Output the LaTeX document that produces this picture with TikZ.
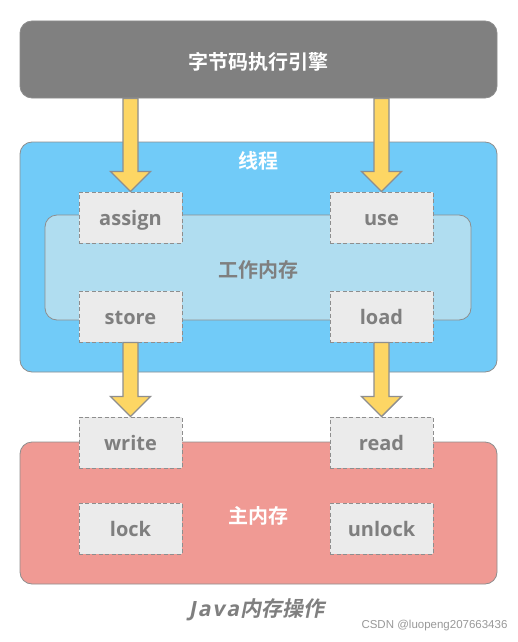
\documentclass[tikz,border=0pt]{standalone}
\usepackage{fontspec}
\usetikzlibrary{calc}
\newfontfamily\cjk{Noto Sans CJK SC}[UprightFont={* Bold}]
\newfontfamily\cjkit{Noto Sans CJK SC}[UprightFont={* Bold},FakeSlant=0.2]
\newfontfamily\latb{Open Sans}[UprightFont={* Bold}]
\newfontfamily\latit{Open Sans}[UprightFont={* Bold},FakeSlant=0.2]
\newfontfamily\wmfont{Liberation Sans}
\definecolor{engfill}{HTML}{808080}
\definecolor{bluefill}{HTML}{71CBF8}
\definecolor{lbluefill}{HTML}{B0DDF0}
\definecolor{redfill}{HTML}{F09A94}
\definecolor{opfill}{HTML}{EBEBEB}
\definecolor{txtgray}{HTML}{7F7F7F}
\definecolor{edgegray}{HTML}{8E8E8E}
\definecolor{arrowfill}{HTML}{FDD664}
\tikzset{
  bigbox/.style={draw=edgegray, line width=0.8pt, rounded corners=12pt, inner sep=0pt},
  opbox/.style={draw=edgegray, fill=opfill, dashed, dash pattern=on 4pt off 2.5pt, line width=1pt,
    minimum width=103pt, minimum height=51pt, inner sep=0pt, text height=15.6pt, text depth=0pt,
    font=\latb\fontsize{20}{20}\selectfont, text=txtgray},
  wlabel/.style={font=\cjk\fontsize{20}{22}\selectfont, text=white},
  glabel/.style={font=\cjk\fontsize{20}{22}\selectfont, text=txtgray},
  yarrow/.style={fill=arrowfill, draw=edgegray, line width=1.4pt, line join=miter}
}
\newcommand\fatarrow[2]{%
  \draw[yarrow] let \p1=(#1), \p2=(#2) in
    (\x2-7.5pt,\y1) -- (\x2-7.5pt,\y2+20pt) -- (\x2-20pt,\y2+20pt) -- (\x2,\y2)
    -- (\x2+20pt,\y2+20pt) -- (\x2+7.5pt,\y2+20pt) -- (\x2+7.5pt,\y1) -- cycle;}
\begin{document}
\begin{tikzpicture}[x=1pt,y=-1pt]
\useasboundingbox[fill=white] (0,0) rectangle (518,642);
% big boxes
\node[bigbox, fill=engfill, minimum width=477pt, minimum height=77pt] (engine) at (258.5,59.5) {};
\node[wlabel] (enginelbl) at (258.5,62) {字节码执行引擎};
\node[bigbox, fill=bluefill, minimum width=477pt, minimum height=230pt] (thread) at (258.5,257) {};
\node[wlabel] (threadlbl) at (258,161) {线程};
\node[bigbox, fill=lbluefill, minimum width=426pt, minimum height=105pt] (work) at (258,267.5) {};
\node[glabel] (worklbl) at (258,270) {工作内存};
\node[bigbox, fill=redfill, minimum width=477pt, minimum height=142pt] (main) at (258.5,513) {};
\node[wlabel] (mainlbl) at (258,516) {主内存};
% operation boxes
\node[opbox] (assign) at (130.5,217.5) {assign};
\node[opbox] (use) at (381.5,217.5) {use};
\node[opbox] (store) at (130.5,316.5) {store};
\node[opbox] (load) at (381.5,316.5) {load};
\node[opbox] (write) at (130.5,442.5) {write};
\node[opbox] (read) at (381.5,442.5) {read};
\node[opbox] (lock) at (130.5,528.5) {lock};
\node[opbox] (unlock) at (381.5,528.5) {unlock};
% arrows
\fatarrow{engine.south -| assign.north}{assign.north}
\fatarrow{engine.south -| use.north}{use.north}
\fatarrow{store.south}{write.north}
\fatarrow{load.south}{read.north}
% caption
\node[text=txtgray, anchor=base, inner sep=0pt] (caption) at (256.5,616.7)
  {{\latit\fontsize{21}{24}\selectfont J\kern2pt a\kern2pt v\kern2pt a}\kern1pt{\cjkit\fontsize{21}{24}\selectfont 内存操作}};
\node[font=\wmfont\fontsize{11.5}{13}\selectfont, text=black!40, anchor=east] (wm) at (511,626) {CSDN @luopeng207663436};
\end{tikzpicture}
\end{document}
